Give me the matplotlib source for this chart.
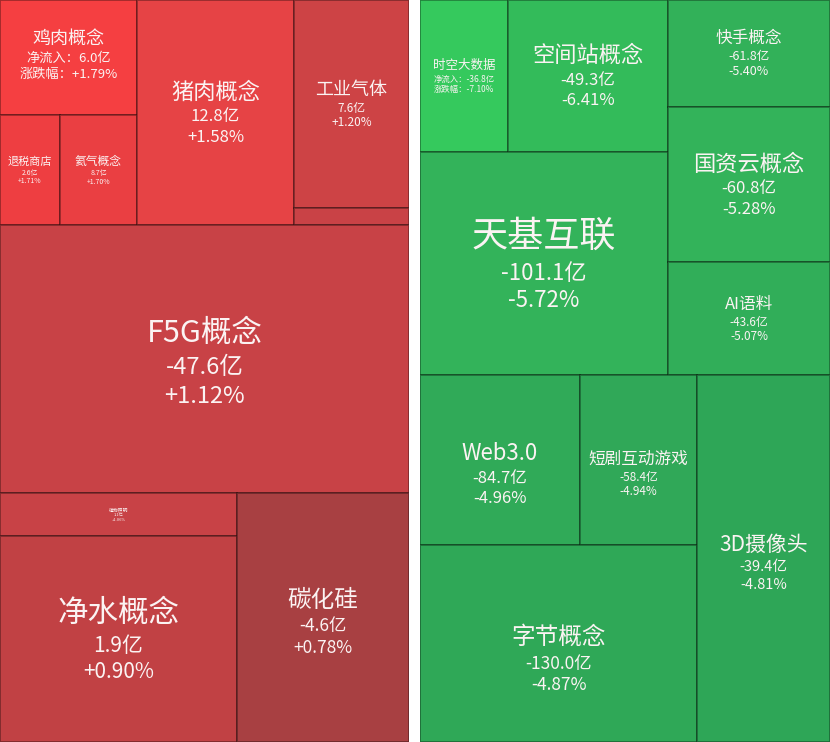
import matplotlib.pyplot as plt
from matplotlib.patches import Rectangle
from matplotlib.transforms import offset_copy

plt.rcParams['font.family'] = ['Noto Sans CJK SC', 'DejaVu Sans']

# left board: rising sectors (red)
up_names = ['鸡肉概念', '退税商店', '氦气概念', '猪肉概念', '工业气体', '',
            'F5G概念', '植物照明', '净水概念', '碳化硅']
up_flow = ['净流入：6.0亿', '2.6亿', '8.7亿', '12.8亿', '7.6亿', '',
           '-47.6亿', '1.1亿', '1.9亿', '-4.6亿']
up_pct = ['涨跌幅：+1.79%', '+1.71%', '+1.70%', '+1.58%', '+1.20%', '',
          '+1.12%', '+1.06%', '+0.90%', '+0.78%']
up_size = [15755, 6600, 8470, 35325, 23920, 1955, 109612, 10191, 48822, 42828]

# right board: falling sectors (green)
down_names = ['时空大数据', '空间站概念', '天基互联', '快手概念', '国资云概念', 'AI语料',
              'Web3.0', '短剧互动游戏', '字节概念', '3D摄像头']
down_flow = ['净流入：-36.8亿', '-49.3亿', '-101.1亿', '-61.8亿', '-60.8亿', '-43.6亿',
             '-84.7亿', '-58.4亿', '-130.0亿', '-39.4亿']
down_pct = ['涨跌幅：-7.10%', '-6.41%', '-5.72%', '-5.40%', '-5.28%', '-5.07%',
            '-4.96%', '-4.94%', '-4.87%', '-4.81%']
down_size = [13376, 24320, 55304, 17334, 25110, 18306, 27200, 19890, 54569, 48811]

# styling
up_colors = ['#f53f41', '#ee3e41', '#ea3f42', '#e64345', '#cd4345', '#c94246',
             '#c84246', '#c84246', '#c14144', '#a84042']
up_fs = [(13, 9.5), (8, 5), (8.5, 5), (16, 12), (13, 8.5), (1, 1),
         (22, 17), (3.5, 3), (22, 15), (17, 12.5)]
up_dy = [2, 0, 0, 0, 0, 0, -2, 0, 0, -3]
down_colors = ['#35c95d', '#33bb5a', '#33b35a', '#32b159', '#33b35a', '#31ae59',
               '#30aa58', '#30a858', '#2fa857', '#2ea657']
down_fs = [(9, 6), (16, 12), (26, 16), (12, 9), (16, 12), (12, 8.5),
           (16, 12), (12, 8.5), (17, 12.5), (15, 10.5)]
down_dy = [0, 0, 0, 0, 0, 0, -10, -10, -11, -3]

up_tree = ('v', [('h', [('v', [0, ('h', [1, 2])]), 3, ('v', [4, 5])]),
                 6,
                 ('h', [('v', [7, 8]), 9])])
down_tree = ('v', [('h', [('v', [('h', [0, 1]), 2]), ('v', [3, 4, 5])]),
                   ('h', [('v', [('h', [6, 7]), 8]), 9])])


def weight(node, sizes):
    if isinstance(node, int):
        return sizes[node]
    return sum(weight(k, sizes) for k in node[1])


def layout(node, sizes, x, y, w, h, out):
    # simple slice-and-dice over a fixed split tree
    if isinstance(node, int):
        out[node] = (x, y, w, h)
        return
    d, kids = node
    tot = weight(node, sizes)
    pos = 0.0
    for k in kids:
        f = weight(k, sizes) / tot
        if d == 'h':
            layout(k, sizes, x + pos * w, y, w * f, h, out)
        else:
            layout(k, sizes, x, y + pos * h, w, h * f, out)
        pos += f


def draw_board(ax, fig, tree, names, flow, pct, sizes, colors, fs, dy):
    rects = {}
    layout(tree, sizes, 0, 0, 1, 1, rects)
    for i, (x, y, w, h) in rects.items():
        ax.add_patch(Rectangle((x, y), w, h, facecolor=colors[i],
                               edgecolor=(0, 0, 0, 0.35), linewidth=1.3))
        if not names[i]:
            continue
        lines = [names[i], flow[i], pct[i]]
        sz = [fs[i][0], fs[i][1], fs[i][1]]
        hts = [sz[0] * 1.3, sz[1] * 1.22, sz[2] * 1.22]
        top = sum(hts) / 2 + dy[i]
        for txt, s, hh in zip(lines, sz, hts):
            tr = offset_copy(ax.transData, fig=fig, x=0, y=top - hh / 2, units='points')
            ax.text(x + w / 2, y + h / 2, txt, transform=tr, fontsize=s,
                    color='#fbf3f3', ha='center', va='center')
            top -= hh
    ax.set_xlim(0, 1)
    ax.set_ylim(1, 0)
    ax.axis('off')


fig = plt.figure(figsize=(8.3, 7.42), dpi=100)
fig.patch.set_facecolor('white')
ax1 = fig.add_axes([0, 0, 409 / 830, 1])
ax2 = fig.add_axes([420 / 830, 0, 410 / 830, 1])

draw_board(ax1, fig, up_tree, up_names, up_flow, up_pct, up_size, up_colors, up_fs, up_dy)
draw_board(ax2, fig, down_tree, down_names, down_flow, down_pct, down_size,
           down_colors, down_fs, down_dy)

fig.savefig('out.png', dpi=100)
